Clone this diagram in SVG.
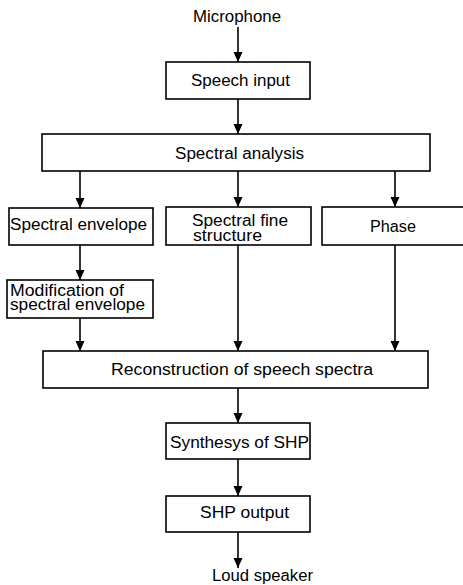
<svg xmlns="http://www.w3.org/2000/svg" width="463" height="585" viewBox="0 0 463 585">
<style>
.box{fill:#fff;stroke:#000;stroke-width:1.6}
.t{font-family:"Liberation Sans",Arial,sans-serif;font-size:16px;fill:#000}
.c{stroke:#000;stroke-width:1.6;fill:none}
</style>
<defs>
<marker id="ah" markerUnits="userSpaceOnUse" markerWidth="10" markerHeight="10" viewBox="0 0 10 10" refX="10" refY="5" orient="auto">
<path d="M0,0.5 L10,5 L0,9.5 Z" fill="#000"/>
</marker>
</defs>
<rect width="463" height="585" fill="#fff"/>
<g id="connectors">
<line class="c" x1="238" y1="27" x2="238" y2="62" marker-end="url(#ah)"/>
<line class="c" x1="238" y1="99" x2="238" y2="134" marker-end="url(#ah)"/>
<line class="c" x1="80" y1="171" x2="80" y2="208" marker-end="url(#ah)"/>
<line class="c" x1="238" y1="171" x2="238" y2="207" marker-end="url(#ah)"/>
<line class="c" x1="395" y1="171" x2="395" y2="207" marker-end="url(#ah)"/>
<line class="c" x1="80" y1="245" x2="80" y2="280" marker-end="url(#ah)"/>
<line class="c" x1="80" y1="318" x2="80" y2="351" marker-end="url(#ah)"/>
<line class="c" x1="238" y1="245" x2="238" y2="351" marker-end="url(#ah)"/>
<line class="c" x1="395" y1="245" x2="395" y2="351" marker-end="url(#ah)"/>
<line class="c" x1="238" y1="388" x2="238" y2="423" marker-end="url(#ah)"/>
<line class="c" x1="238" y1="459" x2="238" y2="496" marker-end="url(#ah)"/>
<line class="c" x1="238" y1="532" x2="238" y2="568" marker-end="url(#ah)"/>
</g>
<g id="microphone"><text class="t" x="193" y="22" textLength="88" lengthAdjust="spacingAndGlyphs">Microphone</text></g>
<g id="speech-input"><rect class="box" x="166" y="62" width="144" height="37"/><text class="t" x="191" y="86" textLength="99" lengthAdjust="spacingAndGlyphs">Speech input</text></g>
<g id="spectral-analysis"><rect class="box" x="42" y="134" width="388" height="37"/><text class="t" x="175" y="159" textLength="129" lengthAdjust="spacingAndGlyphs">Spectral analysis</text></g>
<g id="spectral-envelope"><rect class="box" x="9" y="208" width="144" height="37"/><text class="t" x="10" y="230" textLength="137" lengthAdjust="spacingAndGlyphs">Spectral envelope</text></g>
<g id="spectral-fine-structure"><rect class="box" x="166" y="207" width="145" height="38"/><text class="t" x="192" y="226" textLength="96" lengthAdjust="spacingAndGlyphs">Spectral fine</text><text class="t" x="193" y="241" textLength="69" lengthAdjust="spacingAndGlyphs">structure</text></g>
<g id="phase"><rect class="box" x="322" y="207" width="150" height="38"/><text class="t" x="370" y="232" textLength="46" lengthAdjust="spacingAndGlyphs">Phase</text></g>
<g id="modification"><rect class="box" x="7" y="280" width="146" height="38"/><text class="t" x="10" y="296" textLength="114" lengthAdjust="spacingAndGlyphs">Modification of</text><text class="t" x="10" y="310" textLength="135" lengthAdjust="spacingAndGlyphs">spectral envelope</text></g>
<g id="reconstruction"><rect class="box" x="43" y="351" width="385" height="37"/><text class="t" x="111" y="375" textLength="262" lengthAdjust="spacingAndGlyphs">Reconstruction of speech spectra</text></g>
<g id="synthesys"><rect class="box" x="166" y="423" width="144" height="36"/><text class="t" x="170" y="448" textLength="139" lengthAdjust="spacingAndGlyphs">Synthesys of SHP</text></g>
<g id="shp-output"><rect class="box" x="166" y="496" width="144" height="36"/><text class="t" x="200" y="518" textLength="89" lengthAdjust="spacingAndGlyphs">SHP output</text></g>
<g id="loud-speaker"><text class="t" x="212" y="581" textLength="101" lengthAdjust="spacingAndGlyphs">Loud speaker</text></g>
</svg>
